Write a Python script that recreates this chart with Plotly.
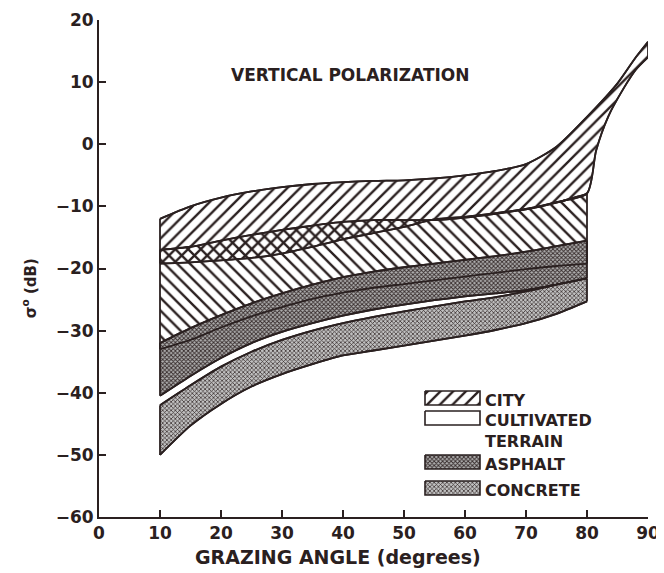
import plotly.graph_objects as go

# ---------------- data ----------------
angle = [10, 15, 20, 25, 30, 35, 40, 45, 50, 55, 60, 65, 70, 75, 80]
city_angle_upper = [10, 15, 20, 25, 30, 35, 40, 45, 50, 55, 60, 65, 70, 75, 80, 85, 88, 90]
city_upper = [-12.0, -10.0, -8.6, -7.6, -6.9, -6.4, -6.1, -5.9, -5.8, -5.5, -5.0, -4.3, -3.2, -0.4, 4.4, 9.8, 14.0, 16.5]
city_angle_lower = [10, 15, 20, 25, 30, 35, 40, 45, 50, 55, 60, 65, 70, 75, 80, 81.5, 83.5, 86, 88, 90]
city_lower = [-19.2, -19.0, -18.7, -18.3, -17.6, -16.5, -15.3, -14.3, -13.3, -12.1, -11.7, -11.1, -10.4, -9.3, -7.9, -1.0, 4.5, 9.0, 12.0, 14.0]
cult_upper = [-17.0, -16.5, -15.5, -14.6, -13.8, -13.1, -12.5, -12.2, -12.2, -12.2, -11.8, -11.2, -10.5, -9.4, -8.0]
cult_lower = [-33.0, -31.5, -29.5, -27.7, -26.2, -24.9, -23.9, -23.1, -22.5, -21.9, -21.3, -20.7, -20.1, -19.6, -19.2]
asph_upper = [-32.0, -29.6, -27.5, -25.6, -24.0, -22.6, -21.4, -20.5, -19.8, -19.2, -18.6, -18.0, -17.3, -16.4, -15.5]
asph_lower = [-40.5, -37.3, -34.4, -32.0, -30.2, -28.8, -27.6, -26.6, -25.8, -25.1, -24.5, -24.0, -23.5, -22.6, -21.6]
conc_upper = [-42.0, -38.8, -35.8, -33.4, -31.5, -30.0, -28.8, -27.8, -26.9, -26.1, -25.3, -24.6, -23.7, -22.6, -21.6]
conc_lower = [-50.0, -45.3, -41.8, -39.0, -37.0, -35.4, -34.0, -33.2, -32.4, -31.6, -30.8, -29.9, -28.8, -27.3, -25.3]

band_names = ["CITY", "CULTIVATED<br>TERRAIN", "ASPHALT", "CONCRETE"]
x_ticks = [0, 10, 20, 30, 40, 50, 60, 70, 80, 90]
y_ticks = [-60, -50, -40, -30, -20, -10, 0, 10, 20]

# ---------------- style ----------------
INK = "#2a2020"
FONT = "DejaVu Sans"
CLEAR = "rgba(0,0,0,0)"
LW = 1.8

pat_city = dict(shape="/", size=9, solidity=0.26, fgcolor=INK, bgcolor=CLEAR, fillmode="replace")
pat_cult = dict(shape="\\", size=9, solidity=0.26, fgcolor=INK, bgcolor=CLEAR, fillmode="replace")
pat_asph = dict(shape="x", size=3, solidity=0.5, fgcolor="#352a2a", bgcolor="#b0b0b0", fillmode="replace")
pat_conc = dict(shape="x", size=3, solidity=0.42, fgcolor="#352a2a", bgcolor="#c0c0c0", fillmode="replace")

bands = [
    (city_angle_lower, city_lower, city_angle_upper, city_upper, pat_city),
    (angle, cult_lower, angle, cult_upper, pat_cult),
    (angle, asph_lower, angle, asph_upper, pat_asph),
    (angle, conc_lower, angle, conc_upper, pat_conc),
]

spline = dict(color=INK, width=LW, shape="spline", smoothing=0.7)

fig = go.Figure()

for xl, lo, xu, up, pat in bands:
    fig.add_trace(go.Scatter(x=xl, y=lo, mode="lines", line=spline, showlegend=False, hoverinfo="skip"))
    fig.add_trace(go.Scatter(x=xu, y=up, mode="lines", fill="tonexty", fillcolor=CLEAR, fillpattern=pat,
                             line=spline, showlegend=False, hoverinfo="skip"))

# redraw every boundary above all fills, plus the vertical end edges
for xl, lo, xu, up, pat in bands:
    fig.add_trace(go.Scatter(x=xl, y=lo, mode="lines", line=spline, showlegend=False, hoverinfo="skip"))
    fig.add_trace(go.Scatter(x=xu, y=up, mode="lines", line=spline, showlegend=False, hoverinfo="skip"))
    fig.add_shape(type="line", xref="x", yref="y", x0=xl[0], x1=xu[0], y0=lo[0], y1=up[0],
                  line=dict(color=INK, width=LW))
    fig.add_shape(type="line", xref="x", yref="y", x0=xl[-1], x1=xu[-1], y0=lo[-1], y1=up[-1],
                  line=dict(color=INK, width=LW))

# ---------------- page geometry (the page body has an 8 px margin) ----------------
BODY = 8
PAGE_W, PAGE_H = 664, 573
PX_L, PX_R, PX_B, PX_T = 99, 648, 517, 20     # plot-area edges in page pixels
FIG_W, FIG_H = PAGE_W - BODY, PAGE_H - BODY

# ---------------- hand-built legend (overlay axes in page-pixel units) ----------------
SW_X0, SW_W, SW_H = 425, 55, 14
row_centres = [398, 418, 462, 488]
legend_pats = [pat_city, None, pat_asph, pat_conc]
for name, cy, pat in zip(band_names, row_centres, legend_pats):
    sx = [SW_X0, SW_X0 + SW_W, SW_X0 + SW_W, SW_X0, SW_X0]
    sy = [cy - SW_H / 2, cy - SW_H / 2, cy + SW_H / 2, cy + SW_H / 2, cy - SW_H / 2]
    kw = dict(fillpattern=pat, fillcolor=CLEAR) if pat else dict(fillcolor="white")
    fig.add_trace(go.Scatter(x=sx, y=sy, xaxis="x2", yaxis="y2", mode="lines", fill="toself",
                             line=dict(color=INK, width=1.6), showlegend=False, hoverinfo="skip", **kw))
    fig.add_annotation(text=name, xref="x2", yref="y2", x=SW_X0 + SW_W + 3, y=cy - 9,
                       xanchor="left", yanchor="top", align="left", showarrow=False,
                       font=dict(family=FONT, size=16, color=INK, weight="bold"))

fig.update_layout(
    width=FIG_W, height=FIG_H,
    margin=dict(l=PX_L - BODY, r=PAGE_W - PX_R, t=PX_T - BODY, b=PAGE_H - PX_B, autoexpand=False),
    paper_bgcolor="white", plot_bgcolor="white",
    font=dict(family=FONT, color=INK, size=16),
    showlegend=False,
    xaxis2=dict(overlaying="x", range=[PX_L, PX_R], visible=False, fixedrange=True, automargin=False),
    yaxis2=dict(overlaying="y", anchor="x2", range=[PX_B, PX_T], visible=False, fixedrange=True, automargin=False),
)

fig.layout.xaxis.update(range=[0, 90], tickvals=x_ticks, showgrid=False, zeroline=False, automargin=False,
                        showline=True, linecolor=INK, linewidth=2,
                        ticks="inside", ticklen=7, tickwidth=2, tickcolor=INK,
                        tickfont=dict(family=FONT, size=17, color=INK, weight="bold"))
fig.layout.yaxis.update(range=[-60, 20], tickvals=y_ticks, showgrid=False, zeroline=False, automargin=False,
                        showline=True, linecolor=INK, linewidth=2,
                        ticks="inside", ticklen=7, tickwidth=2, tickcolor=INK,
                        tickfont=dict(family=FONT, size=17, color=INK, weight="bold"))

fig.add_annotation(text="VERTICAL POLARIZATION", xref="paper", yref="paper", x=0.457, y=0.889,
                   xanchor="center", yanchor="middle", showarrow=False,
                   font=dict(family=FONT, size=17, color=INK, weight="bold"))
fig.add_annotation(text="GRAZING ANGLE (degrees)", xref="paper", yref="paper", x=0.435, y=-0.08,
                   xanchor="center", yanchor="middle", showarrow=False,
                   font=dict(family=FONT, size=19, color=INK, weight="bold"))
fig.add_annotation(text="σ<sup>o</sup> (dB)", xref="paper", yref="paper", x=-0.126, y=0.46,
                   xanchor="center", yanchor="middle", showarrow=False, textangle=-90,
                   font=dict(family=FONT, size=15, color=INK, weight="bold"))

fig.write_html("out.html")
